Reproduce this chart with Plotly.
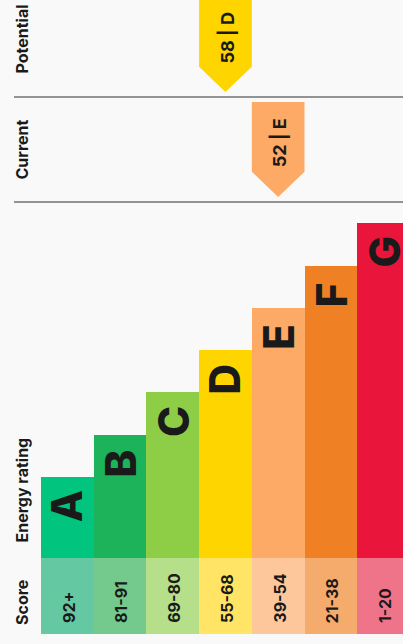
import plotly.graph_objects as go

# ---------------- data ----------------
ratings = ["A", "B", "C", "D", "E", "F", "G"]
score_bands = ["92+", "81-91", "69-80", "55-68", "39-54", "21-38", "1-20"]
bar_levels = [1.92, 2.92, 3.92, 4.92, 5.92, 6.92, 7.92]   # staircase height (in steps)
bar_colors = ["#01c47f", "#1cb35a", "#8dce46", "#ffd500", "#fcaa65", "#ef8023", "#e9153b"]
score_colors = ["#64c9a3", "#74c98d", "#b6df89", "#ffe466", "#fdc79b", "#f4ab6c", "#f07489"]

row_names = ["Potential", "Current"]
row_scores = [58, 52]
row_ratings = ["D", "E"]

# ---------------- layout constants ----------------
W, H = 403, 644
COL_PX, X0_PX = 52.7, 41.0          # column width and left edge of first column
STEP_PX, BASE_PX = 42.3, 558.3      # one staircase step, bar baseline
BG = "#f9f9f9"
INK = "#1a1a1a"

def xd(px):
    return -0.5 + (px - X0_PX) / COL_PX

def yd(px):
    return (BASE_PX - px) / STEP_PX

xpos = list(range(len(ratings)))
idx = {r: i for i, r in enumerate(ratings)}

fig = go.Figure()

# score row
score_h = yd(BASE_PX) - yd(634.3)
fig.add_trace(go.Bar(
    x=xpos, y=[score_h] * len(ratings), base=-score_h, width=1,
    marker=dict(color=score_colors, line=dict(width=0)),
    hoverinfo="skip", showlegend=False,
))
# rating staircase
fig.add_trace(go.Bar(
    x=xpos, y=bar_levels, base=0, width=1,
    marker=dict(color=bar_colors, line=dict(width=0)),
    hoverinfo="skip", showlegend=False,
))

annotations = []
for i, r in enumerate(ratings):
    annotations.append(dict(
        x=i, y=bar_levels[i] - 0.68, text=r, showarrow=False, textangle=-90,
        xanchor="center", yanchor="middle",
        font=dict(family="Inter", size=42, color=INK, weight=800),
    ))
    annotations.append(dict(
        x=i + 0.02, y=yd(625), text=score_bands[i], showarrow=False, textangle=-90,
        xanchor="center", yanchor="bottom",
        font=dict(family="Inter", size=16, color=INK, weight=700),
    ))

# arrow rows
row_lines_px = [97, 202]
shapes = []
for k, (name, sc, rt) in enumerate(zip(row_names, row_scores, row_ratings)):
    line_y = yd(row_lines_px[k])
    i = idx[rt]
    top = line_y + yd(102) - yd(202)
    rect_b = line_y + yd(171.7) - yd(202)
    tip = line_y + yd(197) - yd(202)
    fig.add_trace(go.Scatter(
        x=[i - 0.5, i + 0.5, i + 0.5, i, i - 0.5, i - 0.5],
        y=[top, top, rect_b, tip, rect_b, top],
        mode="lines", fill="toself", fillcolor=bar_colors[i],
        line=dict(width=0, color=bar_colors[i]),
        hoverinfo="skip", showlegend=False,
    ))
    annotations.append(dict(
        x=i + 0.02, y=line_y + yd(143) - yd(202), text=f"{sc} | {rt}", showarrow=False,
        textangle=-90, xanchor="center", yanchor="middle",
        font=dict(family="Inter", size=18, color=INK, weight=700),
    ))
    shapes.append(dict(
        type="line", xref="x", yref="y", x0=xd(14), x1=xd(410), y0=line_y, y1=line_y,
        line=dict(color="#707070", width=1.3),
    ))

# left labels
left_labels = [("Potential", 39), ("Current", 150), ("Energy rating", 490), ("Score", 602.5)]
for txt, cy in left_labels:
    annotations.append(dict(
        x=xd(21.5), y=yd(cy), text=txt, showarrow=False, textangle=-90,
        xanchor="center", yanchor="middle",
        font=dict(family="Inter", size=16, color=INK, weight=700),
    ))

fig.update_layout(
    width=W, height=H, margin=dict(l=0, r=0, t=0, b=0),
    paper_bgcolor=BG, plot_bgcolor=BG,
    bargap=0, barmode="overlay",
    xaxis=dict(range=[xd(0), xd(W)], visible=False, fixedrange=True),
    yaxis=dict(range=[yd(H), yd(0)], visible=False, fixedrange=True),
    annotations=annotations, shapes=shapes,
)

fig.write_html(
    "out.html",
    config={"displayModeBar": False, "staticPlot": True},
    post_script="document.body.style.margin='0';document.body.style.overflow='hidden';",
)
